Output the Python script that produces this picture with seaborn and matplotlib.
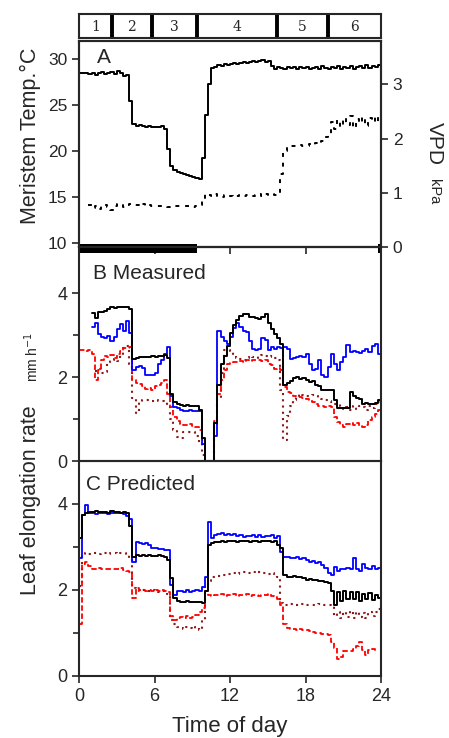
import matplotlib.pyplot as plt
import numpy as np
import pandas as pd
import seaborn as sns

# time of day, 15-minute samples
hours = np.arange(0, 24.01, 0.25)

# Panel A: meristem temperature (degC) and VPD (kPa)
temp = [28.5, 28.5, 28.5, 28.4, 28.5, 28.3, 28.5, 28.6,
        28.4, 28.5, 28.6, 28.4, 28.7, 28.5, 28.2, 28.3,
        25.5, 23.0, 22.8, 22.9, 22.8, 22.7, 22.8, 22.7,
        22.7, 22.6, 22.8, 22.4, 20.3, 18.4, 18.0, 17.8,
        17.6, 17.5, 17.4, 17.3, 17.2, 17.1, 17.0, 19.3,
        24.0, 27.3, 29.1, 29.2, 29.4, 29.3, 29.5, 29.4,
        29.5, 29.6, 29.5, 29.6, 29.7, 29.6, 29.7, 29.8,
        29.7, 29.8, 29.9, 29.7, 29.8, 29.3, 29.0, 29.2,
        29.1, 29.0, 29.2, 29.1, 29.2, 29.0, 29.2, 29.1,
        29.2, 29.0, 29.1, 29.2, 29.0, 29.3, 29.1, 29.0,
        29.2, 29.1, 29.3, 29.0, 29.2, 29.1, 29.3, 29.0,
        29.2, 29.3, 29.1, 29.4, 29.1, 29.3, 29.2, 29.4,
        29.2]
vpd = [np.nan, np.nan, np.nan, 0.77, 0.72, 0.75, 0.71, 0.76,
       0.78, 0.73, 0.68, 0.76, 0.79, 0.77, 0.74, 0.78,
       0.80, 0.78, 0.77, 0.81, 0.79, 0.76, 0.77, 0.76,
       0.75, 0.75, 0.76, 0.75, 0.74, 0.75, 0.75, 0.75,
       0.76, 0.75, 0.75, 0.75, 0.74, 0.75, 0.78, 0.84,
       0.97, 0.96, 0.95, 0.97, 0.95, 0.93, 0.96, 0.95,
       0.94, 0.92, 0.94, 0.96, 0.95, 0.96, 0.96, 0.95,
       0.96, 0.97, 0.95, 0.98, 0.96, 0.97, 0.96, 0.98,
       1.35, 1.78, 1.85, 1.86, 1.87, 1.86, 1.88, 1.87,
       1.86, 1.90, 1.88, 1.91, 1.90, 1.95, 2.02, 2.08,
       2.30, 2.18, 2.35, 2.22, 2.38, 2.25, 2.42, 2.20,
       2.36, 2.28, 2.40, 2.24, 2.38, 2.30, 2.41, 2.26,
       2.33]
night_start = [0, 23.75]
night_end = [9.4, 24]

# phases shown in the top strip
phase_edges = [0, 2.6, 5.8, 9.4, 15.7, 19.8, 24]
phase_labels = ['1', '2', '3', '4', '5', '6']

# Panel B: measured leaf elongation rate (mm/h)
meas_black = [np.nan, np.nan, np.nan, np.nan, 3.53, 3.40, 3.56, 3.55,
              3.58, 3.62, 3.67, 3.65, 3.67, 3.68, 3.66, 3.67,
              3.62, 2.44, 2.45, 2.48, 2.47, 2.49, 2.48, 2.50,
              2.49, 2.51, 2.50, 2.52, 2.45, 1.60, 1.41, 1.36,
              1.33, 1.32, 1.33, 1.32, 1.31, 1.30, 1.22, 0.55,
              0.00, 0.00, 0.00, 0.90, 1.80, 2.30, 2.50, 2.75,
              3.05, 3.25, 3.36, 3.45, 3.51, 3.50, 3.44, 3.42,
              3.40, 3.38, 3.42, 3.51, 3.30, 3.15, 3.02, 2.92,
              2.80, 1.80, 1.85, 1.90, 1.98, 2.00, 1.96, 1.98,
              1.92, 1.88, 1.90, 1.82, 1.78, 1.70, 1.69, 1.70,
              1.69, 1.45, 1.26, 1.26, 1.27, 1.26, 1.65, 1.55,
              1.49, 1.48, 1.37, 1.38, 1.37, 1.37, 1.38, 1.45,
              2.00]
meas_blue = [np.nan, np.nan, np.nan, np.nan, 3.20, 3.30, 3.02, 2.96,
             2.92, 2.98, 2.86, 2.95, 3.15, 3.26, 3.10, 3.33,
             3.05, 2.17, 2.25, 2.26, 2.22, 2.05, 2.06, 2.04,
             2.10, 2.30, 2.40, 2.55, 2.72, 1.55, 1.29, 1.27,
             1.22, 1.20, 1.20, 1.21, 1.20, 1.20, 1.19, 0.40,
             0.00, 0.00, 0.00, 0.60, 3.10, 2.95, 2.86, 2.80,
             2.95, 3.16, 3.28, 3.20, 3.10, 3.08, 2.85, 2.66,
             2.64, 2.68, 2.92, 2.88, 2.65, 2.72, 2.66, 2.72,
             2.70, 2.72, 2.66, 2.44, 2.45, 2.48, 2.50, 2.47,
             2.55, 2.30, 2.17, 2.20, 2.40, 2.05, 2.00, 2.25,
             2.55, 2.30, 2.17, 2.35, 2.48, 2.76, 2.60, 2.62,
             2.60, 2.58, 2.62, 2.66, 2.60, 2.75, 2.80, 2.55,
             2.44]
meas_red = [2.64, 2.64, 2.63, 2.65, 2.55, 1.93, 2.17, 2.40,
            2.50, 2.48, 2.52, 2.45, 2.55, 2.62, 2.70, 2.70,
            2.72, 1.93, 1.85, 1.84, 1.78, 1.72, 1.75, 1.70,
            1.78, 1.80, 1.85, 1.93, 1.60, 1.29, 1.05, 0.95,
            0.88, 0.86, 0.85, 0.87, 0.84, 0.80, 0.74, 0.50,
            0.00, 0.00, 0.00, 0.96, 1.60, 1.93, 2.17, 2.30,
            2.33, 2.37, 2.36, 2.38, 2.37, 2.40, 2.39, 2.40,
            2.41, 2.40, 2.39, 2.40, 2.32, 2.28, 2.20, 2.22,
            2.18, 1.77, 1.65, 1.61, 1.55, 1.53, 1.52, 1.50,
            1.48, 1.45, 1.40, 1.37, 1.32, 1.30, 1.29, 1.30,
            1.28, 1.06, 0.93, 0.85, 0.82, 0.88, 0.90, 0.86,
            0.90, 0.84, 0.82, 0.86, 0.98, 1.06, 1.13, 1.22,
            1.30]
meas_dark = [np.nan, np.nan, np.nan, np.nan, np.nan, 2.15, 2.20, 2.10,
             2.12, 2.35, 2.40, 2.42, 2.38, 2.55, 2.70, 2.75,
             2.30, 1.50, 1.14, 1.40, 1.45, 1.46, 1.45, 1.44,
             1.45, 1.44, 1.43, 1.40, 1.29, 1.00, 0.75, 0.58,
             0.55, 0.68, 0.70, 0.70, 0.68, 0.60, 0.42, 0.15,
             0.00, 0.00, 0.00, 0.88, 1.50, 2.10, 2.64, 2.64,
             2.63, 2.55, 2.45, 2.42, 2.40, 2.45, 2.50, 2.48,
             2.46, 2.50, 2.52, 2.50, 2.48, 2.50, 2.45, 2.40,
             1.69, 0.50, 1.07, 1.30, 1.45, 1.52, 1.60, 1.58,
             1.56, 1.55, 1.57, 1.56, 1.50, 1.47, 1.45, 1.42,
             1.40, 1.37, 1.35, 1.30, 1.25, 1.28, 1.22, 1.30,
             1.25, 1.32, 1.28, 1.22, 1.30, 1.26, 1.35, 1.40,
             1.45]

# Panel C: predicted leaf elongation rate (mm/h)
pred_blue = [2.74, 3.75, 3.97, 3.80, 3.78, 3.77, 3.79, 3.78,
             3.78, 3.77, 3.79, 3.78, 3.80, 3.78, 3.77, 3.72,
             3.66, 2.66, 3.12, 3.10, 3.08, 3.10, 3.05, 2.98,
             2.97, 2.96, 2.95, 2.93, 2.93, 2.12, 1.89, 1.98,
             1.97, 1.95, 2.00, 1.96, 1.98, 2.00, 1.97, 2.08,
             2.30, 3.58, 3.20, 3.27, 3.30, 3.33, 3.28, 3.31,
             3.27, 3.30, 3.25, 3.28, 3.24, 3.26, 3.25, 3.28,
             3.24, 3.27, 3.23, 3.26, 3.25, 3.28, 3.22, 3.25,
             2.89, 2.77, 2.76, 2.75, 2.74, 2.76, 2.72, 2.74,
             2.70, 2.66, 2.68, 2.62, 2.64, 2.58, 2.52, 2.40,
             2.35, 2.54, 2.45, 2.50, 2.48, 2.52, 2.50, 2.74,
             2.50, 2.45, 2.60, 2.52, 2.48, 2.55, 2.50, 2.52,
             2.56]
pred_black = [3.20, 3.74, 3.80, 3.82, 3.81, 3.83, 3.82, 3.81,
              3.82, 3.80, 3.83, 3.82, 3.81, 3.80, 3.82, 3.78,
              3.50, 2.77, 2.81, 2.80, 2.81, 2.80, 2.82, 2.80,
              2.80, 2.81, 2.79, 2.77, 2.70, 2.27, 1.81, 1.75,
              1.73, 1.72, 1.74, 1.73, 1.72, 1.73, 1.71, 1.70,
              1.97, 3.05, 3.10, 3.12, 3.11, 3.13, 3.12, 3.14,
              3.13, 3.14, 3.12, 3.15, 3.13, 3.14, 3.12, 3.13,
              3.14, 3.12, 3.15, 3.13, 3.14, 3.12, 3.13, 3.05,
              2.97, 2.35, 2.31, 2.30, 2.32, 2.31, 2.30, 2.28,
              2.24, 2.25, 2.23, 2.24, 2.20, 2.22, 2.18, 2.16,
              1.97, 1.66, 1.95, 1.75, 1.98, 1.78, 1.95, 1.80,
              1.96, 1.74, 1.90, 1.80, 1.93, 1.76, 1.88, 1.82,
              1.90]
pred_dark = [2.10, 2.80, 2.85, 2.84, 2.86, 2.85, 2.83, 2.85,
             2.86, 2.84, 2.85, 2.87, 2.84, 2.85, 2.86, 2.82,
             2.75, 2.05, 2.00, 1.98, 2.00, 1.99, 1.97, 2.00,
             1.98, 1.96, 1.97, 1.95, 1.90, 1.30, 1.20, 1.15,
             1.12, 1.10, 1.15, 1.12, 1.10, 1.14, 1.08, 1.30,
             2.12, 2.20, 2.31, 2.30, 2.32, 2.35, 2.36, 2.38,
             2.37, 2.40, 2.38, 2.40, 2.41, 2.39, 2.40, 2.42,
             2.40, 2.41, 2.39, 2.40, 2.38, 2.40, 2.36, 2.30,
             1.70, 1.66, 1.66, 1.67, 1.66, 1.65, 1.66, 1.67,
             1.66, 1.66, 1.65, 1.66, 1.67, 1.66, 1.65, 1.66,
             1.62, 1.40, 1.50, 1.36, 1.48, 1.38, 1.52, 1.35,
             1.50, 1.38, 1.46, 1.35, 1.50, 1.40, 1.48, 1.55,
             1.62]
pred_red = [1.20, 2.60, 2.66, 2.55, 2.50, 2.49, 2.51, 2.50,
            2.49, 2.50, 2.48, 2.50, 2.49, 2.51, 2.47, 2.45,
            2.43, 1.81, 2.04, 2.00, 2.01, 1.98, 2.00, 1.97,
            1.99, 1.98, 2.00, 1.97, 1.95, 1.40, 1.30, 1.36,
            1.38, 1.34, 1.40, 1.36, 1.38, 1.42, 1.48, 1.59,
            1.97, 1.89, 1.86, 1.89, 1.88, 1.90, 1.87, 1.89,
            1.88, 1.90, 1.87, 1.89, 1.88, 1.90, 1.86, 1.89,
            1.88, 1.87, 1.89, 1.88, 1.90, 1.86, 1.84, 1.80,
            1.66, 1.20, 1.12, 1.10, 1.09, 1.08, 1.10, 1.07,
            1.08, 1.04, 1.03, 1.00, 1.01, 0.98, 0.97, 0.96,
            0.80, 0.66, 0.40, 0.45, 0.58, 0.58, 0.57, 0.62,
            0.70, 0.80, 0.60, 0.48, 0.60, 0.62, 0.58, np.nan,
            np.nan]

sns.set_style('ticks')
plt.rcParams['font.family'] = ['Liberation Sans', 'DejaVu Sans']
plt.rcParams['axes.linewidth'] = 1.5
plt.rcParams['xtick.major.width'] = 1.2
plt.rcParams['ytick.major.width'] = 1.2
plt.rcParams['ytick.minor.width'] = 1.2
plt.rcParams['xtick.major.size'] = 5
plt.rcParams['ytick.major.size'] = 5
plt.rcParams['ytick.minor.size'] = 4

fig = plt.figure(figsize=(4.49, 7.38), dpi=100)
L, W = 79 / 449, 302 / 449
ax_ph = fig.add_axes([L, 1 - 38 / 738, W, 24 / 738])
ax_a = fig.add_axes([L, 1 - 247 / 738, W, 206 / 738])
ax_b = fig.add_axes([L, 1 - 461 / 738, W, 214 / 738])
ax_c = fig.add_axes([L, 1 - 676 / 738, W, 215 / 738])
ax_b.patch.set_visible(False)
ax_c.patch.set_visible(False)


def trace(ax, values, color, ls='-', lw=1.3):
    df = pd.DataFrame({'hour': hours, 'rate': values})
    sns.lineplot(data=df, x='hour', y='rate', ax=ax, color=color, lw=lw,
                 linestyle=ls, estimator=None, drawstyle='steps-post')


# phase strip
ax_ph.set_xlim(0, 24)
ax_ph.set_ylim(0, 1)
ax_ph.vlines(phase_edges[1:-1], 0, 1, color='black', lw=2.8)
for i, lab in enumerate(phase_labels):
    mid = (phase_edges[i] + phase_edges[i + 1]) / 2
    ax_ph.text(mid, 0.45, lab, ha='center', va='center', fontsize=10,
               family='DejaVu Serif')
ax_ph.set_xticks([])
ax_ph.set_yticks([])

# panel A
trace(ax_a, temp, 'black', lw=1.4)
ax_a.set_xlim(0, 24)
ax_a.set_ylim(9.6, 32)
ax_a.set_yticks([10, 15, 20, 25, 30])
ax_a.set_xticks([6, 12, 18])
ax_a.tick_params(axis='x', labelbottom=False)
ax_a.tick_params(labelsize=12.5)
ax_a.set_xlabel('')
ax_a.set_ylabel('')
for s, e in zip(night_start, night_end):
    bar = ax_a.axvspan(s, e, ymin=-0.03, ymax=0.016, color='black', lw=0,
                       zorder=5)
    bar.set_clip_on(False)
ax_a.text(1.4, 29.6, 'A', fontsize=15)

ax_v = ax_a.twinx()
trace(ax_v, vpd, 'black', ls=(0, (2, 3)), lw=1.4)
ax_v.set_ylim(0, 3.8)
ax_v.set_yticks([0, 1, 2, 3])
ax_v.tick_params(labelsize=12.5)
ax_v.set_ylabel('')
ax_v.set_xlabel('')

# panel B
trace(ax_b, meas_dark, '#8b1a1a', ls=(0, (1, 2)), lw=1.5)
trace(ax_b, meas_red, '#ff0000', ls=(0, (3, 1.5)), lw=1.3)
trace(ax_b, meas_blue, '#0000ff', lw=1.3)
trace(ax_b, meas_black, 'black', lw=1.4)
ax_b.set_xlim(0, 24)
ax_b.set_ylim(0, 5.1)
ax_b.set_yticks([0, 2, 4])
ax_b.set_yticks([1, 3], minor=True)
ax_b.set_xticks([])
ax_b.tick_params(labelsize=13)
ax_b.set_xlabel('')
ax_b.set_ylabel('')
ax_b.text(1.1, 4.33, 'B Measured', fontsize=15)

# panel C
trace(ax_c, pred_dark, '#8b1a1a', ls=(0, (1, 2)), lw=1.5)
trace(ax_c, pred_red, '#ff0000', ls=(0, (3, 1.5)), lw=1.3)
trace(ax_c, pred_blue, '#0000ff', lw=1.3)
trace(ax_c, pred_black, 'black', lw=1.4)
ax_c.set_xlim(0, 24)
ax_c.set_ylim(0, 5.0)
ax_c.set_yticks([0, 2, 4])
ax_c.set_yticks([1, 3], minor=True)
ax_c.set_xticks([0, 6, 12, 18, 24])
ax_c.tick_params(labelsize=13)
ax_c.set_xlabel('Time of day', fontsize=16, labelpad=8)
ax_c.set_ylabel('')
ax_c.text(0.55, 4.32, 'C Predicted', fontsize=15)

# axis titles
fig.text(30 / 449, 1 - 136 / 738, 'Meristem Temp.°C', rotation=90,
         ha='center', va='center', fontsize=15.5)
fig.text(31 / 449, 1 - 500 / 738, 'Leaf elongation rate', rotation=90,
         ha='center', va='center', fontsize=15.5)
fig.text(32 / 449, 1 - 357 / 738, 'mm h$^{-1}$', rotation=90,
         ha='center', va='center', fontsize=10)
fig.text(434 / 449, 1 - 143 / 738, 'VPD', rotation=270,
         ha='center', va='center', fontsize=15)
fig.text(434 / 449, 1 - 192 / 738, 'kPa', rotation=270,
         ha='center', va='center', fontsize=10.5)

fig.savefig('out.png', dpi=100)
